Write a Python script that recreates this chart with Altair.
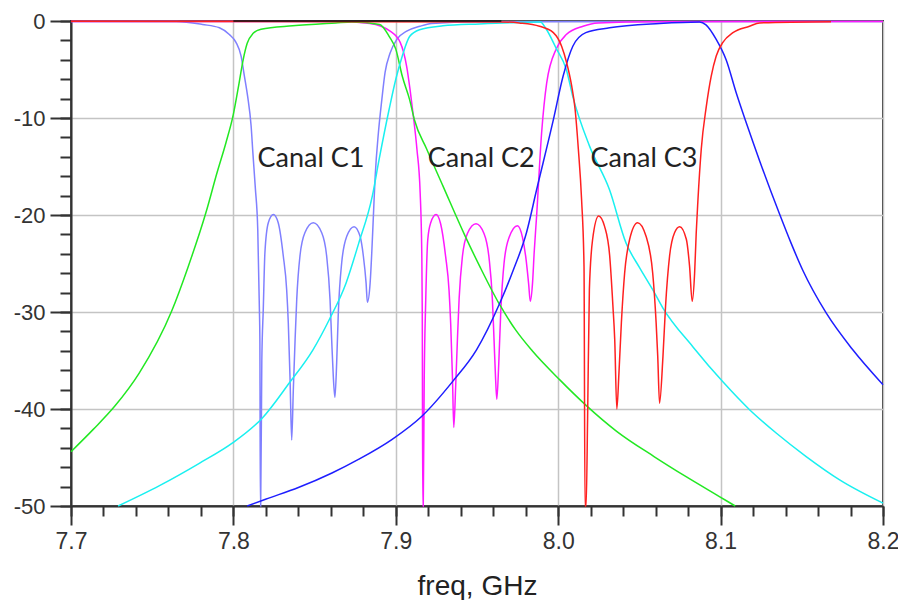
import altair as alt
import pandas as pd

# ---------------- data ----------------
GREEN_F = [7.700, 7.7137, 7.727, 7.742, 7.762, 7.772, 7.783, 7.790, 7.7955, 7.800, 7.8035, 7.806,
           7.8085, 7.812, 7.817, 7.8365, 7.863, 7.873, 7.890, 7.896, 7.900, 7.904, 7.9085, 7.9115,
           7.919, 7.929, 7.9425, 7.952, 7.9638, 7.974, 7.984, 8.001, 8.017, 8.036, 8.059, 8.079,
           8.099, 8.109]
GREEN_DB = [-44.4, -42.1, -39.7, -36.3, -29.9, -25.4, -19.8, -15.6, -12.5, -9.6, -6.4, -4.0,
            -2.3, -1.3, -0.85, -0.5, -0.2, -0.1, -0.35, -1.6, -2.9, -5.7, -8.1, -10.2,
            -13.2, -17.0, -22.1, -25.4, -29.2, -31.9, -34.0, -37.0, -39.6, -42.3, -44.9, -47.0,
            -49.0, -50.0]

CYAN_F = [7.729, 7.7545, 7.779, 7.7995, 7.818, 7.8345, 7.849, 7.859, 7.8694, 7.877, 7.8856, 7.8897,
          7.8959, 7.900, 7.904, 7.9085, 7.9146, 7.929, 7.9515, 7.975, 7.989, 7.9925, 7.9987, 8.005,
          8.009, 8.0193, 8.0316, 8.0418, 8.050, 8.0582, 8.0645, 8.083, 8.1014, 8.118, 8.1344,
          8.1527, 8.1733, 8.200]
CYAN_DB = [-50.0, -47.9, -45.6, -43.5, -40.9, -37.3, -33.9, -30.8, -27.0, -23.0, -18.0, -14.3,
           -9.1, -6.0, -3.6, -1.6, -0.9, -0.5, -0.3, -0.15, -0.1, -0.8, -2.8, -5.0,
           -7.8, -12.9, -17.4, -22.9, -25.4, -27.7, -29.6, -33.6, -37.2, -40.1, -42.5,
           -44.9, -47.3, -49.7]

BLUE_F = [7.8085, 7.8198, 7.840, 7.8607, 7.877, 7.898, 7.9157, 7.9353, 7.9497, 7.964, 7.9723, 7.9805,
          7.9867, 7.997, 8.003, 8.009, 8.017, 8.0316, 8.0624, 8.087, 8.091, 8.0973, 8.1034, 8.1096,
          8.1158, 8.124, 8.1363, 8.1434, 8.1506, 8.165, 8.1814, 8.200]
BLUE_DB = [-50.0, -49.3, -48.1, -46.6, -45.2, -43.1, -40.8, -37.1, -33.9, -29.1, -25.7, -21.8,
           -17.4, -10.2, -5.7, -2.6, -1.2, -0.7, -0.26, -0.1, -0.4, -1.9, -4.0, -7.4,
           -10.5, -14.4, -19.9, -22.9, -25.7, -30.1, -33.9, -37.5]

PURPLE_F = [7.700, 7.765, 7.781, 7.7914, 7.7975, 7.8016, 7.8047, 7.8068, 7.8088, 7.8109, 7.812, 7.8135,
            7.815, 7.816, 7.8163, 7.8166, 7.8168, 7.8175, 7.8184, 7.8194, 7.8215, 7.8246, 7.8276,
            7.8307, 7.8328, 7.8338, 7.8349, 7.8359, 7.8369, 7.838, 7.839, 7.841, 7.8441, 7.8492,
            7.8543, 7.8574, 7.8595, 7.8605, 7.8615, 7.8625, 7.8636, 7.8646, 7.8667, 7.8698, 7.8743,
            7.878, 7.880, 7.8817, 7.8825, 7.8842, 7.8852, 7.8862, 7.8873, 7.8893, 7.8914, 7.8934,
            7.8965, 7.9006, 7.9067, 7.9149, 7.922, 7.950, 8.200]
PURPLE_DB = [-0.05, -0.05, -0.36, -0.7, -1.4, -2.2, -3.6, -5.7, -7.8, -10.8, -13.6, -17.2,
             -21.5, -29.7, -32.8, -50.0, -50.0, -35.0, -29.7, -23.9, -20.8, -19.95, -20.8,
             -24.2, -27.7, -31.1, -37.0, -43.2, -38.0, -32.8, -28.7, -24.2, -21.8, -20.8,
             -21.8, -24.2, -28.7, -32.8, -36.6, -38.8, -35.2, -30.1, -24.9, -22.2, -21.2,
             -22.2, -24.2, -27.0, -29.0, -27.0, -23.9, -20.1, -16.0, -11.5, -8.1, -5.3,
             -3.3, -1.9, -1.05, -0.54, -0.26, -0.08, -0.05]

MAGENTA_F = [7.700, 7.865, 7.884, 7.8965, 7.9027, 7.9067, 7.9088, 7.9108, 7.913, 7.915, 7.916, 7.9163,
             7.9166, 7.9169, 7.9175, 7.9184, 7.9197, 7.9215, 7.9248, 7.9276, 7.9307, 7.9328, 7.9338,
             7.9349, 7.9357, 7.9369, 7.938, 7.939, 7.941, 7.9441, 7.9494, 7.9543, 7.9574, 7.9595,
             7.9605, 7.9614, 7.9622, 7.9634, 7.9646, 7.9667, 7.9698, 7.9749, 7.978, 7.980, 7.9818,
             7.9828, 7.9842, 7.9852, 7.9867, 7.9898, 7.9929, 7.999, 8.005, 8.0153, 8.0245, 8.060, 8.200]
MAGENTA_DB = [-0.05, -0.05, -0.26, -1.05, -2.2, -4.7, -7.1, -9.8, -13.2, -17.7, -24.0, -30.1,
              -50.0, -50.0, -37.0, -29.0, -22.5, -20.8, -19.95, -20.9, -24.3, -27.8, -31.2,
              -36.8, -41.9, -37.5, -32.6, -28.6, -24.3, -21.9, -20.9, -21.9, -24.4, -28.8,
              -32.9, -36.7, -39.0, -35.3, -30.1, -24.9, -22.3, -21.1, -22.3, -24.3, -27.1,
              -28.9, -27.0, -23.9, -20.1, -11.5, -6.4, -2.8, -1.4, -0.54, -0.2, -0.08, -0.05]

RED_F = [7.700, 7.965, 7.976, 7.9885, 7.997, 8.0021, 8.0052, 8.0083, 8.0104, 8.0124, 8.0144, 8.0159,
         8.0165, 8.0168, 8.0172, 8.0181, 8.0192, 8.0212, 8.0249, 8.0286, 8.0317, 8.0337, 8.0348,
         8.0361, 8.0374, 8.0389, 8.0409, 8.044, 8.0489, 8.0541, 8.0582, 8.0603, 8.0613, 8.0624,
         8.0645, 8.0661, 8.0686, 8.0717, 8.0748, 8.0789, 8.0809, 8.0825, 8.084, 8.085, 8.086,
         8.0881, 8.0912, 8.0942, 8.0973, 8.1014, 8.1076, 8.1178, 8.124, 8.168]
RED_DB = [-0.02, -0.1, -0.2, -0.54, -1.2, -2.6, -4.3, -6.7, -9.1, -13.2, -18.4, -25.3,
          -50.0, -50.0, -50.0, -41.0, -27.7, -22.5, -20.1, -21.2, -24.2, -29.4, -32.8,
          -40.0, -36.3, -31.1, -26.0, -22.5, -20.8, -22.2, -26.0, -31.1, -34.6, -39.4,
          -34.6, -29.4, -24.2, -21.8, -21.2, -22.5, -25.3, -28.9, -26.0, -21.8, -18.6,
          -13.2, -8.8, -5.7, -3.6, -2.2, -1.2, -0.54, -0.2, -0.08]

BLACK_F = [7.800, 7.965]
BLACK_DB = [0.0, 0.0]

LABEL_F = [7.8148, 7.9197, 8.0199]
LABEL_DB = [-15.0, -15.0, -15.0]
LABEL_TXT = ["Canal C1", "Canal C2", "Canal C3"]

X_MAJOR_TICKS = [7.7, 7.8, 7.9, 8.0, 8.1, 8.2]
X_MINOR_TICKS = [round(7.70 + 0.02 * i, 2) for i in range(26)]
Y_MAJOR_TICKS = [-50, -40, -30, -20, -10, 0]
Y_MINOR_TICKS = list(range(-50, 1, 2))

# (name, freqs, dbs, colour) in drawing order
SERIES = [
    ("purple", PURPLE_F, PURPLE_DB, "#8080ff"),
    ("magenta", MAGENTA_F, MAGENTA_DB, "#ff19ff"),
    ("green", GREEN_F, GREEN_DB, "#22e822"),
    ("cyan", CYAN_F, CYAN_DB, "#19f0f0"),
    ("blue", BLUE_F, BLUE_DB, "#1e1eff"),
    ("red", RED_F, RED_DB, "#ff2020"),
    ("black", BLACK_F, BLACK_DB, "#111111"),
]

x_scale = alt.Scale(domain=[7.7, 8.2], nice=False, zero=False)
y_scale = alt.Scale(domain=[-50, 0], nice=False, zero=False)

AX = dict(tickColor="#333333", tickWidth=2, labelFont="Liberation Sans", labelColor="#333333",
          labelFlush=False, labelOverlap=False)

x_major = alt.Axis(
    values=X_MAJOR_TICKS, format=".1f", orient="bottom",
    title="freq, GHz",
    titleFont="Liberation Sans", titleFontSize=28, titleFontWeight="normal", titleColor="#222222",
    titleY=88, titleBaseline="alphabetic",
    labelFontSize=23, labelPadding=5, tickSize=19,
    domainColor="#333333", domainWidth=2,
    grid=True, gridColor="#c4c4c4", gridWidth=1.5, **AX,
)
y_major = alt.Axis(
    values=Y_MAJOR_TICKS, orient="left", title=None,
    labelExpr="'' + datum.value",
    labelFontSize=22, labelPadding=5, tickSize=21,
    domainColor="#333333", domainWidth=2,
    grid=True, gridColor="#c4c4c4", gridWidth=1.5, **AX,
)
x_minor = alt.Axis(values=X_MINOR_TICKS, orient="bottom", title=None, labels=False, domain=False,
                   grid=False, tickSize=10, tickColor="#333333", tickWidth=2)
y_minor = alt.Axis(values=Y_MINOR_TICKS, orient="left", title=None, labels=False, domain=False,
                   grid=False, tickSize=11, tickColor="#333333", tickWidth=2)

layers = []
for i, (name, fs, dbs, col) in enumerate(SERIES):
    df = pd.DataFrame({"freq": fs, "db": dbs})
    if i == 0:
        xa, ya = x_major, y_major
    elif i == 1:
        xa, ya = x_minor, y_minor
    else:
        xa, ya = None, None
    ln = alt.Chart(df).mark_line(color=col, strokeWidth=1.5, interpolate="monotone").encode(
        x=alt.X("freq:Q", scale=x_scale, axis=xa),
        y=alt.Y("db:Q", scale=y_scale, axis=ya),
    )
    layers.append(ln)

labels_df = pd.DataFrame({"freq": LABEL_F, "db": LABEL_DB, "txt": LABEL_TXT})
texts = alt.Chart(labels_df).mark_text(
    font="Lato", fontSize=27, color="#222222", align="left", baseline="alphabetic"
).encode(x=alt.X("freq:Q", scale=x_scale, axis=None),
         y=alt.Y("db:Q", scale=y_scale, axis=None), text="txt:N")
layers.append(texts)

chart = alt.layer(*layers).resolve_axis(x="independent", y="independent").properties(
    width=812, height=485,
    padding={"left": 63, "top": 13, "right": 15, "bottom": 94},
    autosize=alt.AutoSizeParams(type="none"),
    background="white",
).configure_view(stroke="#333333", strokeWidth=2)

chart.save("out.html", embed_options={"renderer": "svg", "actions": False})
